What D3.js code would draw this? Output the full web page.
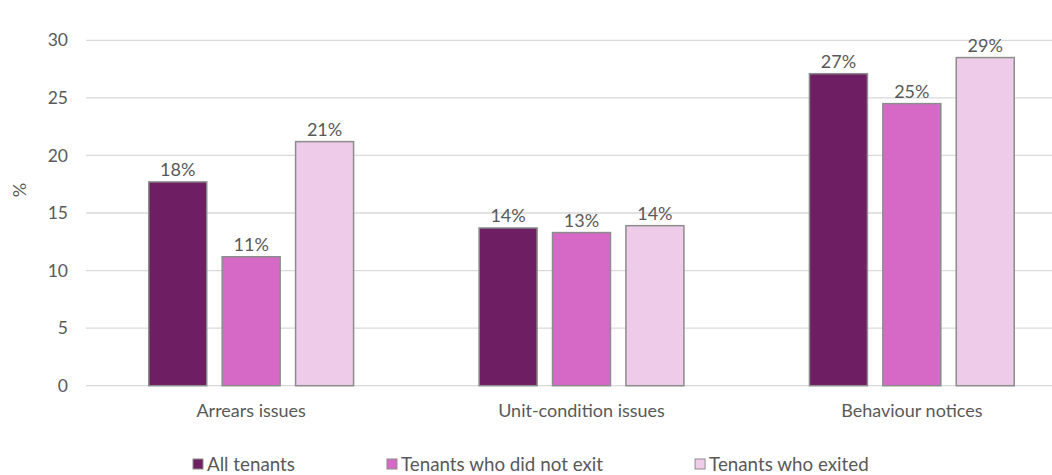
<!DOCTYPE html>
<html>
<head>
<meta charset="utf-8">
<script src="https://cdn.jsdelivr.net/npm/d3@7/dist/d3.min.js"></script>
<style>
  html, body { margin: 0; padding: 0; background: #fff; }
  svg { display: block; font-family: Lato, "Open Sans", sans-serif; }
</style>
</head>
<body>
<svg id="chart" width="1052" height="475"></svg>
<script>
// Categories and series
const categories = ["Arrears issues", "Unit-condition issues", "Behaviour notices"];
const seriesNames = ["All tenants", "Tenants who did not exit", "Tenants who exited"];
const allTenants = [17.7, 13.7, 27.1];
const didNotExit = [11.2, 13.3, 24.5];
const exited = [21.2, 13.9, 28.5];
const yTicks = [0, 5, 10, 15, 20, 25, 30];
const colors = ["#6e1e63", "#d669c6", "#efcbea"];

const seriesValues = [allTenants, didNotExit, exited];
const rows = categories.map((c, i) => ({
  category: c,
  values: seriesNames.map((s, j) => ({ series: s, value: seriesValues[j][i], idx: j }))
}));

const svg = d3.select("#chart");
const W = 1052, H = 475;
const textColor = "#595959";

const y = d3.scaleLinear().domain([0, 30]).range([385.7, 40.3]);
const x0 = d3.scaleBand().domain(categories).range([86, 1077]).paddingInner(0).paddingOuter(0);
const x1 = d3.scaleBand().domain(seriesNames).range([0, x0.bandwidth()])
  .paddingInner(0.21).paddingOuter(0.855);
const color = d3.scaleOrdinal().domain(seriesNames).range(colors);

// Gridlines
svg.append("g").selectAll("line").data(yTicks).join("line")
  .attr("x1", 86).attr("x2", W)
  .attr("y1", d => y(d)).attr("y2", d => y(d))
  .attr("stroke", "#d9d9d9").attr("stroke-width", 1.3);

// Y axis labels
const yAxis = svg.append("g").attr("transform", "translate(68,0)")
  .call(d3.axisLeft(y).tickValues(yTicks).tickSize(0).tickPadding(0));
yAxis.select(".domain").remove();
yAxis.selectAll("text")
  .attr("fill", textColor).style("font-size", "17.5px")
  .style("font-family", "Lato, 'Open Sans', sans-serif");

// Y axis title
svg.append("text")
  .attr("transform", "translate(26,190) rotate(-90)")
  .attr("text-anchor", "middle")
  .attr("fill", textColor).style("font-size", "18px")
  .text("%");

// Bars
const groups = svg.append("g").selectAll("g").data(rows).join("g")
  .attr("transform", d => `translate(${x0(d.category)},0)`);

groups.selectAll("rect").data(d => d.values).join("rect")
  .attr("x", d => x1(d.series))
  .attr("y", d => y(d.value))
  .attr("width", x1.bandwidth())
  .attr("height", d => y(0) - y(d.value))
  .attr("fill", d => color(d.series))
  .attr("stroke", "#8c8c8c").attr("stroke-width", 1.5);

// Value labels
const fmt = v => Math.round(v) + "%";
groups.selectAll("text.val").data(d => d.values).join("text")
  .attr("class", "val")
  .attr("x", d => x1(d.series) + x1.bandwidth() / 2)
  .attr("y", d => y(d.value) - 6)
  .attr("text-anchor", "middle")
  .attr("fill", textColor).style("font-size", "18px")
  .text(d => fmt(d.value));

// Category labels
const xAxis = svg.append("g").attr("transform", "translate(0,404)")
  .call(d3.axisBottom(x0).tickSize(0).tickPadding(0));
xAxis.select(".domain").remove();
xAxis.selectAll("text")
  .attr("dy", "0.71em")
  .attr("fill", textColor).style("font-size", "18px")
  .style("font-family", "Lato, 'Open Sans', sans-serif");

// Legend
const legend = svg.append("g").attr("transform", "translate(0,464)");
let lx = 193;
seriesNames.forEach((s, i) => {
  const g = legend.append("g").attr("transform", `translate(${lx},0)`);
  g.append("rect").attr("x", 0).attr("y", -5).attr("width", 10).attr("height", 10)
    .attr("fill", colors[i]).attr("stroke", "#8c8c8c").attr("stroke-width", 1);
  const t = g.append("text").attr("x", 14).attr("y", 0).attr("dy", "0.35em")
    .attr("fill", textColor).style("font-size", "18.8px").text(s);
  lx += 14 + t.node().getComputedTextLength() + 92;
});
</script>
</body>
</html>
